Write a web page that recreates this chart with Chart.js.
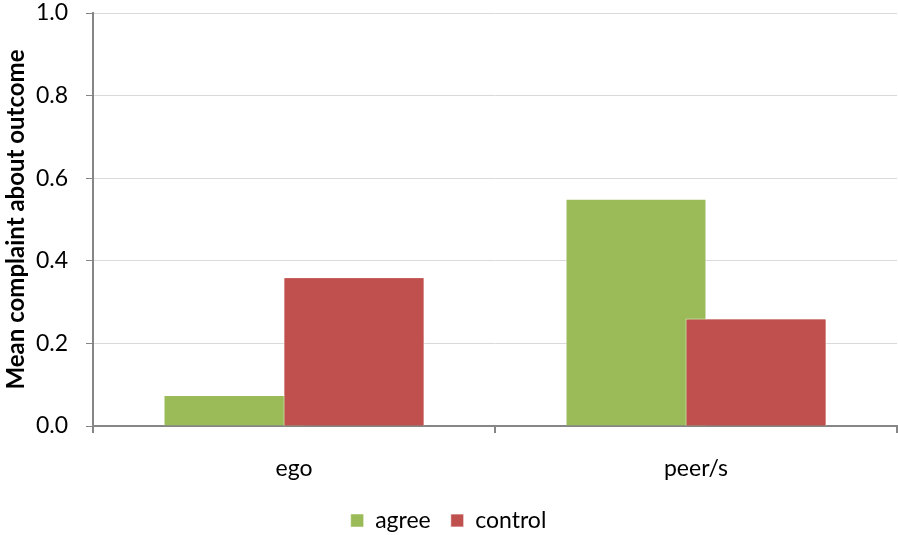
<!DOCTYPE html>
<html>
<head>
<meta charset="utf-8">
<script src="https://cdn.jsdelivr.net/npm/chart.js@4/dist/chart.umd.min.js"></script>
<style>
  body { margin: 0; background: #fff; }
</style>
</head>
<body>
<canvas id="chart" width="898" height="535"></canvas>
<script>
// donnees
const categories = ["ego", "peer/s"];
const agree = [0.075, 0.55];
const control = [0.36, 0.26];
const yTicks = [0, 0.2, 0.4, 0.6, 0.8, 1.0];

// les barres rouges passent au-dessus des vertes (chevauchement)
const redrawControl = {
  id: "redrawControl",
  afterDatasetsDraw(chart) {
    chart.getDatasetMeta(1).controller.draw();
  },
};

const ctx = document.getElementById("chart");
new Chart(ctx, {
  type: "bar",
  data: {
    labels: categories,
    datasets: [
      {
        label: "agree",
        data: agree,
        backgroundColor: "#9BBB59",
        borderColor: "rgba(255,255,255,0.5)",
        borderWidth: 1,
        categoryPercentage: 0.597,
        barPercentage: 1.175,
      },
      {
        label: "control",
        data: control,
        backgroundColor: "#C0504D",
        borderColor: "rgba(255,255,255,0.7)",
        borderWidth: 1,
        categoryPercentage: 0.597,
        barPercentage: 1.175,
      },
    ],
  },
  options: {
    responsive: false,
    animation: false,
    layout: { padding: { top: 0, right: 1, bottom: -7, left: 0 } },
    plugins: {
      tooltip: { enabled: false },
      legend: {
        position: "bottom",
        labels: {
          boxWidth: 13,
          boxHeight: 13,
          padding: 20,
          color: "#000",
          font: { family: "Lato", size: 23 },
        },
      },
    },
    scales: {
      x: {
        afterFit: (scale) => {
          scale.height = 63;
        },
        grid: {
          drawOnChartArea: false,
          color: "#868686",
          tickLength: 7,
          lineWidth: 2,
        },
        border: { color: "#868686", width: 2 },
        ticks: {
          color: "#000",
          padding: 22,
          font: { family: "Lato", size: 23 },
        },
      },
      y: {
        min: 0,
        max: 1,
        afterBuildTicks: (scale) => {
          scale.ticks = yTicks.map((v) => ({ value: v }));
        },
        afterFit: (scale) => {
          scale.width = 93;
          scale.paddingTop = 13;
          scale.paddingBottom = 0;
        },
        grid: {
          color: "#D9D9D9",
          tickColor: "#868686",
          tickLength: 7,
          lineWidth: 1,
        },
        border: { color: "#868686", width: 2 },
        ticks: {
          color: "#000",
          padding: 18,
          font: { family: "Lato", size: 23 },
          callback: (v) => v.toFixed(1),
        },
        title: {
          display: true,
          text: "Mean complaint about outcome",
          color: "#000",
          padding: { top: 2, bottom: 4 },
          font: { family: "Lato", size: 24, weight: "bold" },
        },
      },
    },
  },
  plugins: [redrawControl],
});
</script>
</body>
</html>
